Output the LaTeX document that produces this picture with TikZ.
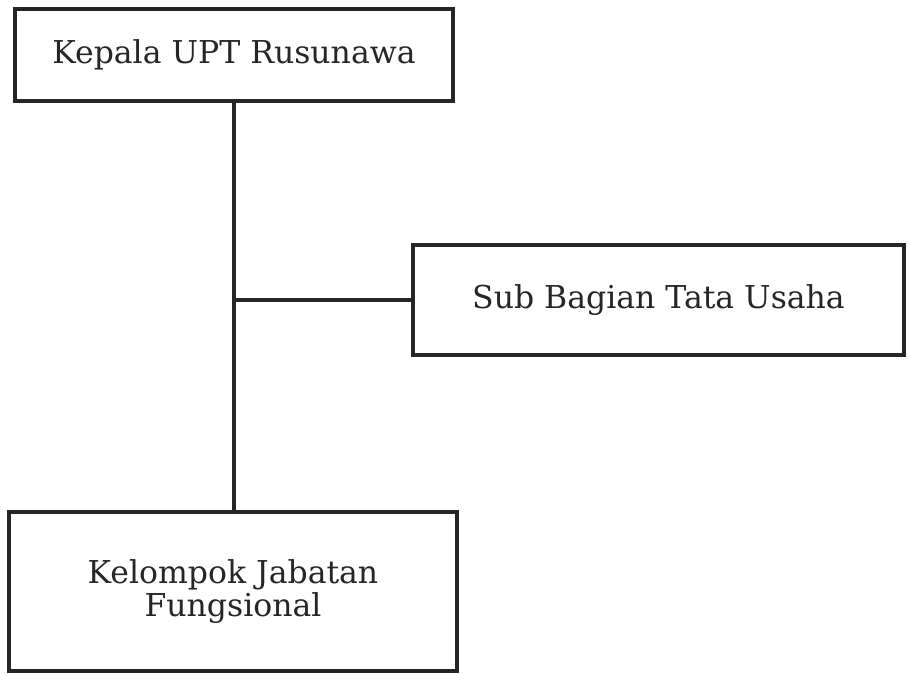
\documentclass[tikz,border=0pt]{standalone}
\usepackage{fontspec}
\setmainfont{DejaVu Serif}
\begin{document}
\begin{tikzpicture}[x=1pt,y=1pt,
  unitbox/.style={draw=black!85, line width=3.5pt, fill=white, inner sep=0pt, align=center,
    font=\fontsize{31.5}{33}\selectfont, text=black!85},
  link/.style={draw=black!85, line width=3.5pt}]
\useasboundingbox[fill=white] (0,0) rectangle (908,674);
\node[unitbox, minimum width=438pt, minimum height=92pt] (k) at (234,619) {Kepala UPT Rusunawa};
\node[unitbox, minimum width=491pt, minimum height=110pt] (s) at (658.5,374) {Sub Bagian Tata Usaha};
\node[unitbox, minimum width=448pt, minimum height=159pt] (f) at (233,82.5) {Kelompok Jabatan\\Fungsional};
\coordinate (j) at (k.south |- s.west);
\draw[link] (k.south) -- (k.south |- f.north);
\draw[link] (j) -- (s.west);
\end{tikzpicture}
\end{document}
